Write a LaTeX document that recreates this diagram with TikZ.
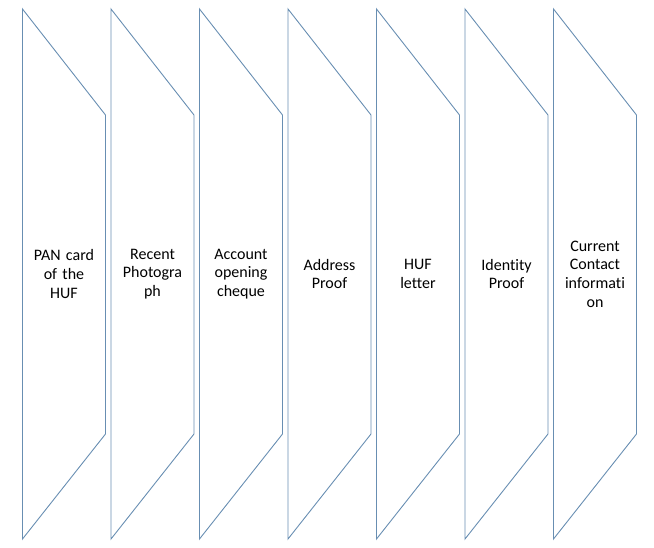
\documentclass[tikz,border=0pt]{standalone}
\usepackage{fontspec}
\setmainfont{Carlito}[Ligatures={NoCommon,NoContextual}, RawFeature={-liga;-clig;-calt}]
\usetikzlibrary{calc, positioning}
\definecolor{chevline}{RGB}{104,142,178}
\tikzset{
	chev/.style={draw=chevline, line width=0.9pt, line join=miter},
	label/.style={align=center, text width=76pt, font=\fontsize{16}{18.6}\selectfont, inner sep=0pt}
}

\begin{document}
\begin{tikzpicture}[x=1pt, y=-1pt]
			\useasboundingbox (0, 0) rectangle (654, 548);
			\foreach \i/\txt in {0/{PAN card\\of the\\HUF}, 1/{Recent\\Photogra\\ph}, 2/{Account\\opening\\cheque}, 3/{Address\\Proof}, 4/{HUF\\letter}, 5/{Identity\\Proof}, 6/{Current\\Contact\\informati\\on}} {
				\coordinate (a\i) at (22.5+88.5*\i, 9);
				\draw[chev] (a\i) -- ++(83, 106) -- ++(0, 319) -- ++(-83, 105) -- cycle;
				\node[label] (t\i) at (64+88.5*\i, 274) {\txt};
			}
		\end{tikzpicture}
\end{document}
